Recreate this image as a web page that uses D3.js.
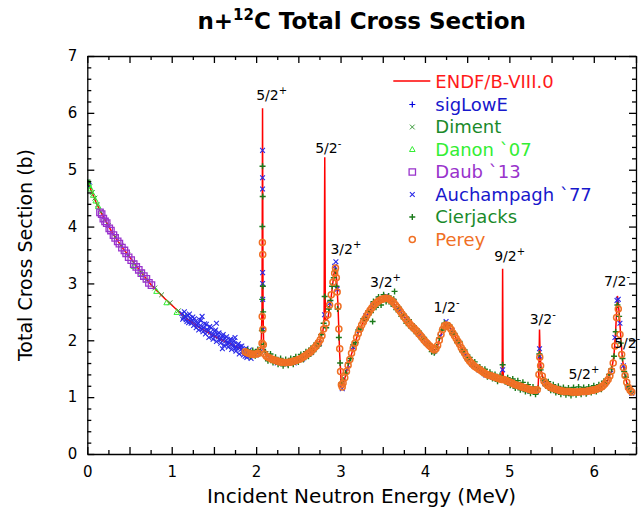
<!DOCTYPE html>
<html lang="en">
<head>
    <meta charset="UTF-8">
    <title>n+12C Total Cross Section</title>
    <script src="https://d3js.org/d3.v7.min.js"></script>
    <style>
        body { margin: 0; background: #fff; font-family: "DejaVu Sans", sans-serif; }
        .axis path, .axis line { stroke: #000; stroke-width: 1.3; }
        .axis text { font-family: "DejaVu Sans", sans-serif; font-size: 15px; fill: #000; }
        .res { font-family: "DejaVu Sans", sans-serif; font-size: 14px; fill: #000; }
    </style>
</head>
<body>
<div id="chart"></div>
<script>
// ENDF/B-VIII.0 evaluation [E (MeV), sigma (b)]
const endf = [[0.00,4.80],[0.05,4.62],[0.10,4.44],[0.15,4.28],[0.20,4.15],[0.30,3.88],[0.43,3.60],[0.50,3.47],[0.62,3.23],[0.76,2.97],[0.92,2.73],[1.05,2.55],[1.18,2.38],[1.30,2.25],[1.47,2.10],[1.60,2.00],[1.72,1.92],[1.85,1.83],[1.93,1.79],[2.00,1.77],[2.04,1.78],[2.06,1.88],[2.07,2.6],[2.076,6.08],[2.082,2.5],[2.09,1.85],[2.12,1.75],[2.16,1.71],[2.25,1.64],[2.36,1.61],[2.45,1.63],[2.55,1.69],[2.64,1.78],[2.70,1.87],[2.75,1.97],[2.79,2.15],[2.805,2.35],[2.813,5.22],[2.82,2.35],[2.85,2.38],[2.89,2.77],[2.92,3.15],[2.94,3.30],[2.955,3.05],[2.97,2.60],[2.99,1.75],[3.01,1.20],[3.03,1.22],[3.06,1.38],[3.11,1.66],[3.16,1.90],[3.21,2.13],[3.26,2.29],[3.31,2.42],[3.36,2.55],[3.40,2.63],[3.47,2.71],[3.54,2.74],[3.60,2.70],[3.66,2.60],[3.72,2.48],[3.78,2.36],[3.85,2.24],[3.92,2.13],[3.99,2.00],[4.06,1.89],[4.11,1.82],[4.15,1.90],[4.19,2.10],[4.23,2.26],[4.26,2.28],[4.31,2.20],[4.36,2.06],[4.41,1.93],[4.47,1.77],[4.53,1.63],[4.60,1.53],[4.67,1.46],[4.73,1.40],[4.80,1.36],[4.87,1.32],[4.91,1.31],[4.915,1.5],[4.92,3.26],[4.925,1.5],[4.93,1.30],[5.00,1.26],[5.06,1.22],[5.12,1.19],[5.20,1.15],[5.27,1.12],[5.32,1.12],[5.34,1.16],[5.35,1.5],[5.357,2.19],[5.365,1.7],[5.38,1.45],[5.40,1.33],[5.44,1.23],[5.48,1.18],[5.55,1.14],[5.62,1.11],[5.70,1.10],[5.80,1.09],[5.91,1.10],[6.00,1.12],[6.07,1.16],[6.12,1.22],[6.17,1.31],[6.21,1.46],[6.24,1.75],[6.26,2.20],[6.28,2.78],[6.30,2.50],[6.32,2.05],[6.34,1.66],[6.37,1.38],[6.40,1.20],[6.43,1.10],[6.46,1.08]];

const sigLowE = [[0.002,4.78],[0.005,4.77],[0.01,4.76],[0.015,4.75]];

const diment = [[0.003,4.79],[0.006,4.77],[0.008,4.78],[0.012,4.76],[0.03,4.70],[0.06,4.60],[0.09,4.50],[0.12,4.38],[0.16,4.26],[0.20,4.12],[0.25,4.02],[0.33,3.82],[0.40,3.67],[0.48,3.50],[0.55,3.36],[0.63,3.20],[0.70,3.06],[0.80,2.92],[0.88,2.80],[0.98,2.66],[1.08,2.52],[1.15,2.43]];

const danon = [[0.00,4.78],[0.02,4.72],[0.04,4.66],[0.07,4.55],[0.10,4.45],[0.13,4.35],[0.55,3.30],[0.65,3.17],[0.82,2.86],[0.94,2.66],[1.06,2.49]];

const daub = [[0.15,4.25],[0.17,4.22],[0.19,4.14],[0.21,4.09],[0.23,4.06],[0.26,3.97],[0.28,3.93],[0.31,3.85],[0.33,3.80],[0.36,3.74],[0.38,3.70],[0.41,3.63],[0.44,3.58],[0.46,3.53],[0.49,3.46],[0.52,3.41],[0.55,3.34],[0.58,3.29],[0.61,3.24],[0.64,3.18],[0.67,3.13],[0.70,3.08],[0.73,3.01],[0.76,2.97]];

const auchampagh = [[1.12,2.47],[1.13,2.37],[1.14,2.40],[1.15,2.50],[1.16,2.42],[1.17,2.36],[1.18,2.33],[1.19,2.44],[1.20,2.31],[1.21,2.46],[1.22,2.39],[1.23,2.30],[1.24,2.35],[1.25,2.41],[1.26,2.26],[1.27,2.38],[1.28,2.33],[1.29,2.22],[1.30,2.27],[1.31,2.30],[1.32,2.18],[1.33,2.36],[1.34,2.26],[1.35,2.35],[1.36,2.42],[1.36,2.20],[1.37,2.15],[1.38,2.22],[1.39,2.29],[1.40,2.11],[1.41,2.28],[1.42,2.19],[1.43,2.17],[1.44,2.05],[1.45,2.24],[1.46,2.14],[1.47,2.22],[1.48,2.08],[1.49,2.02],[1.50,2.10],[1.51,2.16],[1.52,2.18],[1.53,2.30],[1.53,1.98],[1.54,2.11],[1.55,2.06],[1.56,2.13],[1.57,2.01],[1.58,1.95],[1.59,2.03],[1.60,1.85],[1.60,2.08],[1.61,2.10],[1.62,1.91],[1.63,2.04],[1.64,1.99],[1.65,2.06],[1.66,1.94],[1.67,1.88],[1.68,1.95],[1.69,2.01],[1.70,2.02],[1.71,1.84],[1.72,1.93],[1.73,1.91],[1.74,1.99],[1.75,2.05],[1.75,1.86],[1.76,1.81],[1.77,1.87],[1.78,1.92],[1.79,1.94],[1.80,1.76],[1.81,1.89],[1.82,1.84],[1.83,1.90],[1.84,1.79],[1.85,1.74],[1.86,1.80],[1.87,1.72],[1.88,1.86],[1.89,1.70],[1.90,1.80],[1.91,1.77],[1.92,1.83],[1.93,1.73],[1.94,1.68],
  [2.00,1.74],[2.05,1.80],[2.076,5.34],[2.076,4.86],[2.076,4.66],[2.077,3.19],[2.077,3.00],[2.078,2.72],[2.08,2.19],[2.15,1.70],[2.25,1.60],[2.35,1.58],[2.45,1.60],[2.55,1.67],[2.65,1.78],[2.75,1.95],[2.81,2.45],[2.87,2.65],[2.93,3.30],[2.945,3.38],[2.96,2.90],[3.02,1.15],[3.08,1.50],[3.15,1.88],[3.22,2.17],[3.30,2.43],[3.38,2.62],[3.46,2.73],[3.54,2.78],[3.62,2.70],[3.70,2.53],[3.78,2.38],[3.86,2.23],[3.94,2.10],[4.02,1.95],[4.10,1.80],[4.18,2.07],[4.25,2.33],[4.32,2.17],[4.40,1.95],[4.48,1.74],[4.56,1.57],[4.64,1.48],[4.72,1.39],[4.80,1.35],[4.88,1.30],[4.92,1.48],[5.00,1.24],[5.08,1.19],[5.16,1.15],[5.24,1.11],[5.32,1.10],[5.357,1.85],[5.36,1.72],[5.42,1.24],[5.50,1.15],[5.58,1.10],[5.66,1.08],[5.74,1.07],[5.82,1.07],[5.90,1.08],[5.98,1.10],[6.06,1.14],[6.14,1.24],[6.20,1.42],[6.25,2.05],[6.275,2.70],[6.29,2.72],[6.31,2.30],[6.35,1.55],[6.40,1.18],[6.45,1.07]];

const cierjacks = [[0.004,4.78],[0.009,4.77],[1.90,1.83],[1.93,1.72],[1.96,1.82],[1.99,1.73],[2.02,1.84],[2.05,1.79],[2.068,2.17],[2.072,2.72],[2.074,4.00],[2.076,5.06],[2.078,4.53],[2.08,2.95],[2.083,2.50],[2.09,1.93],[2.11,1.80],[2.14,1.64],[2.17,1.76],[2.20,1.61],[2.23,1.70],[2.26,1.58],[2.29,1.68],[2.32,1.55],[2.35,1.66],[2.38,1.56],[2.41,1.68],[2.44,1.58],[2.47,1.71],[2.50,1.62],[2.53,1.75],[2.56,1.66],[2.59,1.80],[2.62,1.72],[2.65,1.86],[2.68,1.80],[2.71,1.95],[2.74,1.90],[2.77,2.10],[2.80,2.30],[2.812,2.77],[2.83,2.22],[2.86,2.55],[2.88,2.70],[2.90,2.95],[2.92,3.10],[2.94,3.22],[2.95,2.95],[2.965,2.55],[2.98,2.05],[2.995,1.60],[3.01,1.25],[3.03,1.30],[3.06,1.42],[3.09,1.60],[3.12,1.68],[3.15,1.92],[3.18,1.96],[3.21,2.18],[3.24,2.20],[3.27,2.38],[3.30,2.36],[3.33,2.52],[3.36,2.49],[3.38,2.33],[3.39,2.68],[3.42,2.58],[3.45,2.76],[3.48,2.62],[3.51,2.80],[3.54,2.68],[3.57,2.78],[3.60,2.64],[3.63,2.72],[3.64,2.86],[3.66,2.54],[3.69,2.58],[3.72,2.42],[3.75,2.46],[3.78,2.30],[3.81,2.36],[3.84,2.21],[3.87,2.25],[3.90,2.12],[3.93,2.16],[3.96,2.02],[3.99,2.05],[4.02,1.92],[4.05,1.94],[4.08,1.80],[4.11,1.78],[4.14,1.88],[4.17,2.04],[4.20,2.18],[4.23,2.30],[4.26,2.24],[4.29,2.27],[4.32,2.12],[4.35,2.12],[4.38,1.96],[4.41,1.98],[4.44,1.80],[4.47,1.83],[4.50,1.66],[4.53,1.70],[4.56,1.55],[4.59,1.62],[4.62,1.49],[4.65,1.53],[4.68,1.42],[4.71,1.49],[4.74,1.36],[4.77,1.44],[4.80,1.33],[4.83,1.40],[4.86,1.28],[4.89,1.38],[4.92,1.57],[4.95,1.27],[4.98,1.34],[5.01,1.21],[5.04,1.32],[5.07,1.16],[5.10,1.29],[5.13,1.13],[5.16,1.26],[5.19,1.10],[5.22,1.22],[5.25,1.07],[5.28,1.18],[5.31,1.05],[5.34,1.15],[5.355,1.76],[5.37,1.48],[5.40,1.30],[5.43,1.20],[5.46,1.27],[5.49,1.12],[5.52,1.22],[5.55,1.08],[5.58,1.19],[5.61,1.05],[5.64,1.17],[5.67,1.04],[5.70,1.16],[5.73,1.03],[5.76,1.17],[5.79,1.04],[5.82,1.18],[5.85,1.05],[5.88,1.17],[5.91,1.06],[5.94,1.18],[5.97,1.08],[6.00,1.20],[6.03,1.10],[6.06,1.22],[6.09,1.14],[6.12,1.28],[6.15,1.25],[6.18,1.40],[6.21,1.50],[6.24,1.72],[6.26,2.15],[6.28,2.62],[6.30,2.42],[6.32,1.95],[6.34,1.68],[6.36,1.45],[6.38,1.35],[6.40,1.20],[6.42,1.14],[6.44,1.08]];

const perey = [[1.87,1.80],[1.89,1.78],[1.91,1.77],[1.93,1.76],[1.95,1.76],[1.97,1.75],[1.99,1.76],[2.01,1.76],[2.03,1.77],[2.05,1.82],[2.07,1.95],[2.072,2.42],[2.074,3.72],[2.078,3.51],[2.08,2.19],[2.085,1.92],[2.10,1.76],[2.12,1.72],[2.14,1.70],[2.16,1.69],[2.18,1.67],[2.20,1.66],[2.22,1.65],[2.24,1.64],[2.26,1.63],[2.28,1.62],[2.30,1.62],[2.32,1.61],[2.34,1.61],[2.36,1.61],[2.38,1.61],[2.40,1.62],[2.42,1.62],[2.44,1.63],[2.46,1.64],[2.48,1.65],[2.50,1.66],[2.52,1.67],[2.54,1.69],[2.56,1.71],[2.58,1.73],[2.60,1.75],[2.62,1.77],[2.64,1.79],[2.66,1.82],[2.68,1.85],[2.70,1.88],[2.72,1.92],[2.74,1.96],[2.76,2.01],[2.78,2.08],[2.80,2.20],[2.83,2.30],[2.85,2.45],[2.87,2.62],[2.89,2.80],[2.91,3.02],[2.93,3.18],[2.94,3.27],[2.95,3.10],[2.96,2.85],[2.97,2.60],[2.98,2.20],[2.99,1.85],[3.00,1.45],[3.01,1.22],[3.02,1.18],[3.03,1.25],[3.05,1.34],[3.07,1.45],[3.09,1.56],[3.11,1.66],[3.13,1.77],[3.15,1.86],[3.17,1.95],[3.19,2.05],[3.21,2.12],[3.23,2.20],[3.25,2.27],[3.27,2.32],[3.29,2.38],[3.31,2.43],[3.33,2.48],[3.35,2.53],[3.37,2.57],[3.39,2.61],[3.41,2.64],[3.43,2.67],[3.45,2.69],[3.47,2.71],[3.49,2.72],[3.51,2.73],[3.53,2.74],[3.55,2.74],[3.57,2.73],[3.59,2.71],[3.61,2.69],[3.63,2.66],[3.65,2.62],[3.67,2.58],[3.69,2.54],[3.71,2.50],[3.73,2.46],[3.75,2.42],[3.77,2.38],[3.79,2.34],[3.81,2.31],[3.83,2.27],[3.85,2.24],[3.87,2.21],[3.89,2.18],[3.91,2.15],[3.93,2.11],[3.95,2.08],[3.97,2.04],[3.99,2.00],[4.01,1.97],[4.03,1.94],[4.05,1.91],[4.07,1.88],[4.09,1.85],[4.11,1.83],[4.13,1.85],[4.15,1.91],[4.17,2.00],[4.19,2.10],[4.21,2.19],[4.23,2.25],[4.25,2.27],[4.27,2.26],[4.29,2.23],[4.31,2.19],[4.33,2.13],[4.35,2.08],[4.37,2.03],[4.39,1.98],[4.41,1.93],[4.43,1.87],[4.45,1.82],[4.47,1.77],[4.49,1.72],[4.51,1.67],[4.53,1.63],[4.55,1.60],[4.57,1.57],[4.59,1.54],[4.61,1.52],[4.63,1.50],[4.65,1.48],[4.67,1.46],[4.69,1.44],[4.71,1.42],[4.73,1.40],[4.75,1.39],[4.77,1.38],[4.79,1.37],[4.81,1.36],[4.83,1.35],[4.85,1.34],[4.87,1.33],[4.89,1.32],[4.91,1.31],[4.93,1.31],[4.95,1.30],[4.97,1.29],[4.99,1.27],[5.01,1.26],[5.03,1.25],[5.05,1.23],[5.07,1.22],[5.09,1.21],[5.11,1.20],[5.13,1.19],[5.15,1.18],[5.17,1.17],[5.19,1.16],[5.21,1.15],[5.23,1.14],[5.25,1.13],[5.27,1.12],[5.29,1.12],[5.31,1.12],[5.33,1.13],[5.35,1.40],[5.36,1.70],[5.37,1.55],[5.39,1.37],[5.41,1.28],[5.43,1.24],[5.45,1.21],[5.47,1.19],[5.49,1.17],[5.51,1.16],[5.53,1.15],[5.55,1.14],[5.57,1.13],[5.59,1.12],[5.61,1.11],[5.63,1.11],[5.65,1.10],[5.67,1.10],[5.69,1.10],[5.71,1.10],[5.73,1.09],[5.75,1.09],[5.77,1.09],[5.79,1.09],[5.81,1.09],[5.83,1.09],[5.85,1.10],[5.87,1.10],[5.89,1.10],[5.91,1.10],[5.93,1.11],[5.95,1.11],[5.97,1.12],[5.99,1.12],[6.01,1.13],[6.03,1.14],[6.05,1.15],[6.07,1.16],[6.09,1.18],[6.11,1.20],[6.13,1.23],[6.15,1.27],[6.17,1.31],[6.19,1.37],[6.21,1.46],[6.23,1.60],[6.25,1.90],[6.27,2.40],[6.29,2.55],[6.31,2.10],[6.33,1.75],[6.35,1.52],[6.37,1.38],[6.39,1.26],[6.41,1.17],[6.43,1.12],[6.45,1.09]];

// resonance labels: [E, sigma, J, parity]
const resonances = [[2.0,6.22,"5/2","+"],[2.7,5.3,"5/2","-"],[2.88,3.52,"3/2","+"],[3.35,2.93,"3/2","+"],[4.1,2.5,"1/2","-"],[4.82,3.39,"9/2","+"],[5.24,2.29,"3/2","-"],[5.7,1.32,"5/2","+"],[6.12,2.95,"7/2","-"],[6.24,1.87,"5/2","-"]];

const xTicks = d3.range(0, 27).map(i => i * 0.25);
const yTicks = d3.range(0, 36).map(i => i / 5);

const W = 644, H = 510;
const margin = { top: 56, right: 8, bottom: 56, left: 87.3 };
const width = W - margin.left - margin.right;
const height = H - margin.top - margin.bottom;

const svg = d3.select("#chart").append("svg")
    .attr("width", W).attr("height", H);

const g = svg.append("g")
    .attr("transform", `translate(${margin.left},${margin.top})`);

const x = d3.scaleLinear().domain([0, 6.5]).range([0, width]);
const y = d3.scaleLinear().domain([0, 7]).range([height, 0]);

g.append("clipPath").attr("id", "clip")
  .append("rect").attr("width", width).attr("height", height);

const plot = g.append("g").attr("clip-path", "url(#clip)");

// evaluation curve
plot.append("path")
    .datum(endf)
    .attr("fill", "none")
    .attr("stroke", "#ff0000")
    .attr("stroke-width", 1.5)
    .attr("d", d3.line().x(d => x(d[0])).y(d => y(d[1])));

// marker shapes
const shapes = {
    plus: "M-3,0H3M0,-3V3",
    cross: "M-2.4,-2.4L2.4,2.4M-2.4,2.4L2.4,-2.4",
    tri: "M0,-3L2.8,2L-2.8,2Z",
    square: "M-3.2,-3.2H3.2V3.2H-3.2Z"
};

const series = [
    { name: "sigLowE", data: sigLowE, shape: "plus", mark: "#0000dd", text: "#1818cc", sw: 1.2 },
    { name: "Diment", data: diment, shape: "cross", mark: "#3a9a3a", text: "#1a8a2a", sw: 1 },
    { name: "Danon `07", data: danon, shape: "tri", mark: "#33ee33", text: "#33ee33", sw: 1 },
    { name: "Daub `13", data: daub, shape: "square", mark: "#9933cc", text: "#9933cc", sw: 1.3 },
    { name: "Auchampagh `77", data: auchampagh, shape: "cross", mark: "#2a2ae8", text: "#1818cc", sw: 1.1 },
    { name: "Cierjacks", data: cierjacks, shape: "plus", mark: "#1a7a1a", text: "#1a8a2a", sw: 1.4 },
    { name: "Perey", data: perey, shape: "circle", mark: "#f07024", text: "#f07024", sw: 1.5 }
];

function drawMarker(sel, s) {
    if (s.shape === "circle") {
        sel.append("circle").attr("r", 3)
            .attr("fill", "none").attr("stroke", s.mark).attr("stroke-width", s.sw);
    } else {
        sel.append("path").attr("d", shapes[s.shape])
            .attr("fill", "none").attr("stroke", s.mark).attr("stroke-width", s.sw);
    }
}

series.forEach(s => {
    plot.append("g").selectAll("g")
        .data(s.data)
        .enter().append("g")
        .attr("transform", d => `translate(${x(d[0])},${y(d[1])})`)
        .each(function() { drawMarker(d3.select(this), s); });
});

// axes with inward ticks on all four sides
const isMajorX = v => Math.abs(v * 2 - Math.round(v * 2)) < 1e-6;
const isMajorY = v => Math.abs(v - Math.round(v)) < 1e-6;

const xAxis = g.append("g").attr("class", "axis")
    .attr("transform", `translate(0,${height})`)
    .call(d3.axisBottom(x).tickValues(xTicks).tickSize(-4).tickSizeOuter(0).tickPadding(12)
        .tickFormat(d => isMajorY(d) ? d3.format("d")(d) : ""));
xAxis.selectAll(".tick line").attr("y2", d => isMajorX(d) ? -7 : -4);

const xTop = g.append("g").attr("class", "axis")
    .call(d3.axisTop(x).tickValues(xTicks).tickSize(-4).tickSizeOuter(0).tickFormat(""));
xTop.selectAll(".tick line").attr("y2", d => isMajorX(d) ? 7 : 4);

const yAxis = g.append("g").attr("class", "axis")
    .call(d3.axisLeft(y).tickValues(yTicks).tickSize(-4).tickSizeOuter(0).tickPadding(10)
        .tickFormat(d => isMajorY(d) ? d3.format("d")(d) : ""));
yAxis.selectAll(".tick line").attr("x2", d => isMajorY(d) ? 7 : 4);

const yRight = g.append("g").attr("class", "axis")
    .attr("transform", `translate(${width},0)`)
    .call(d3.axisRight(y).tickValues(yTicks).tickSize(-4).tickSizeOuter(0).tickFormat(""));
yRight.selectAll(".tick line").attr("x2", d => isMajorY(d) ? -7 : -4);

// resonance labels
resonances.forEach(r => {
    const t = g.append("text").attr("class", "res")
        .attr("x", x(r[0])).attr("y", y(r[1]));
    t.append("tspan").text(r[2]);
    t.append("tspan").attr("dy", -6).style("font-size", "10px").text(r[3]);
});

// legend
const legend = g.append("g").attr("transform", `translate(${412.3 - margin.left},0)`);
const rowY = i => 88 - margin.top + i * 22.5;
legend.append("line")
    .attr("x1", -19).attr("x2", 18)
    .attr("y1", rowY(0) - 7).attr("y2", rowY(0) - 7)
    .attr("stroke", "#ff0000").attr("stroke-width", 1.5);
legend.append("text").attr("x", 23).attr("y", rowY(0))
    .style("font-size", "18px").attr("fill", "#ff1a1a").text("ENDF/B-VIII.0");
series.forEach((s, i) => {
    const m = legend.append("g").attr("transform", `translate(0,${rowY(i + 1) - 6})`);
    drawMarker(m, s);
    legend.append("text").attr("x", 23).attr("y", rowY(i + 1))
        .style("font-size", "18px").attr("fill", s.text).text(s.name);
});

// title and axis labels
const title = svg.append("text")
    .attr("x", margin.left + width / 2).attr("y", 29)
    .attr("text-anchor", "middle")
    .style("font-size", "23px").style("font-weight", "bold");
title.append("tspan").text("n+");
title.append("tspan").attr("dy", -9).style("font-size", "15px").text("12");
title.append("tspan").attr("dy", 9).text("C Total Cross Section");

svg.append("text")
    .attr("x", margin.left + width / 2).attr("y", 503)
    .attr("text-anchor", "middle")
    .style("font-size", "20px")
    .text("Incident Neutron Energy (MeV)");

svg.append("text")
    .attr("transform", "rotate(-90)")
    .attr("x", -255).attr("y", 32)
    .attr("text-anchor", "middle")
    .style("font-size", "19px")
    .text("Total Cross Section (b)");
</script>
</body>
</html>
